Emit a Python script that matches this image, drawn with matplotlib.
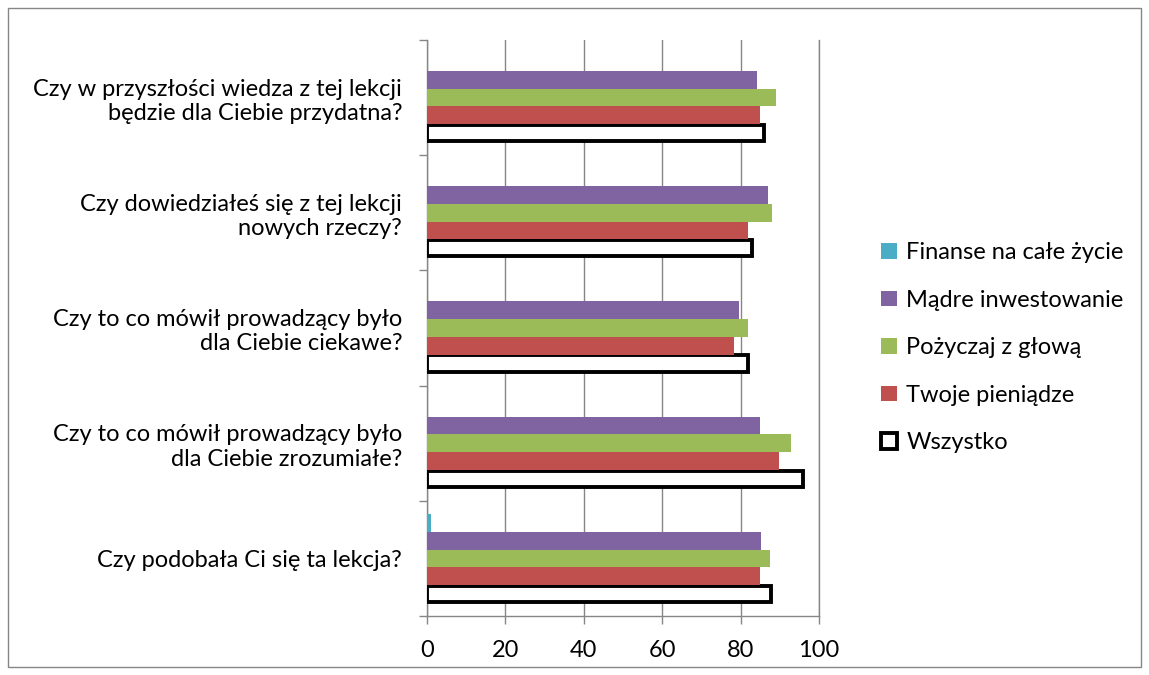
import matplotlib.pyplot as plt
import matplotlib.patches as mpatches
import numpy as np

plt.rcParams['font.family'] = ['Lato', 'DejaVu Sans']

# pytania, od dolu do gory
pytania = ["Czy podobała Ci się ta lekcja?",
           "Czy to co mówił prowadzący było\ndla Ciebie zrozumiałe?",
           "Czy to co mówił prowadzący było\ndla Ciebie ciekawe?",
           "Czy dowiedziałeś się z tej lekcji\nnowych rzeczy?",
           "Czy w przyszłości wiedza z tej lekcji\nbędzie dla Ciebie przydatna?"]

wszystko = [87.8, 95.8, 81.8, 82.8, 86.0]
twoje_pieniadze = [84.9, 89.9, 78.3, 82.0, 84.9]
pozyczaj = [87.4, 92.9, 81.9, 87.9, 89.0]
madre_inwestowanie = [85.2, 84.9, 79.6, 86.9, 84.1]
finanse = [1.0, 0, 0, 0, 0]

serie = ["Wszystko", "Twoje pieniądze", "Pożyczaj z głową", "Mądre inwestowanie", "Finanse na całe życie"]
kolory = ["white", "#C0504D", "#9BBB59", "#8064A2", "#4BACC6"]
dane = [wszystko, twoje_pieniadze, pozyczaj, madre_inwestowanie, finanse]

fs = 17

fig = plt.figure(figsize=(11.49, 6.75), dpi=100)
ax = fig.add_axes([427/1149, 1-616/675, 392/1149, 576/675])

y = np.arange(len(pytania))
h = 0.154
for i, (nazwa, wart, kol) in enumerate(zip(serie, dane, kolory)):
    off = (i - 2) * h
    if nazwa == "Wszystko":
        ax.barh(y + off, wart, height=h*0.92, color=kol, edgecolor="black", linewidth=2.8, zorder=3)
    else:
        ax.barh(y + off, wart, height=h, color=kol, zorder=3)

ax.set_xlim(0, 100)
ax.set_ylim(-0.5, 4.5)
ax.set_xticks(range(0, 101, 20))
ax.set_yticks(y)
ax.set_yticklabels(pytania, fontsize=fs, ha="right", multialignment="right")
ax.set_yticks(np.arange(-0.5, 4.6, 1), minor=True)
ax.tick_params(axis="y", which="major", length=0, pad=18)
ax.tick_params(axis="y", which="minor", length=6, color="#868686", width=1)
ax.tick_params(axis="x", length=6, color="#868686", width=1, labelsize=fs, pad=11)

ax.grid(axis="x", color="#868686", linewidth=1, zorder=0)
ax.axvline(100, color="#868686", linewidth=1, zorder=0, clip_on=False)
for s in ["top", "right"]:
    ax.spines[s].set_visible(False)
for s in ["left", "bottom"]:
    ax.spines[s].set_color("#868686")
    ax.spines[s].set_linewidth(1)

# legenda
uchwyty = []
for nazwa, kol in reversed(list(zip(serie, kolory))):
    if nazwa == "Wszystko":
        uchwyty.append(mpatches.Patch(facecolor="white", edgecolor="black", linewidth=2.8, label=nazwa))
    else:
        uchwyty.append(mpatches.Patch(facecolor=kol, label=nazwa))
fig.legend(handles=uchwyty, loc="upper left", bbox_to_anchor=(872/1149, 1-233/675),
           frameon=False, fontsize=fs, handlelength=0.65, handleheight=0.65,
           handletextpad=0.4, labelspacing=1.12, borderaxespad=0)

# ramka wokol wykresu
fig.patches.append(mpatches.Rectangle((8/1149, 8/675), 1133/1149, 659/675, transform=fig.transFigure,
                                      fill=False, edgecolor="#868686", linewidth=1))

fig.savefig("out.png", dpi=100)
